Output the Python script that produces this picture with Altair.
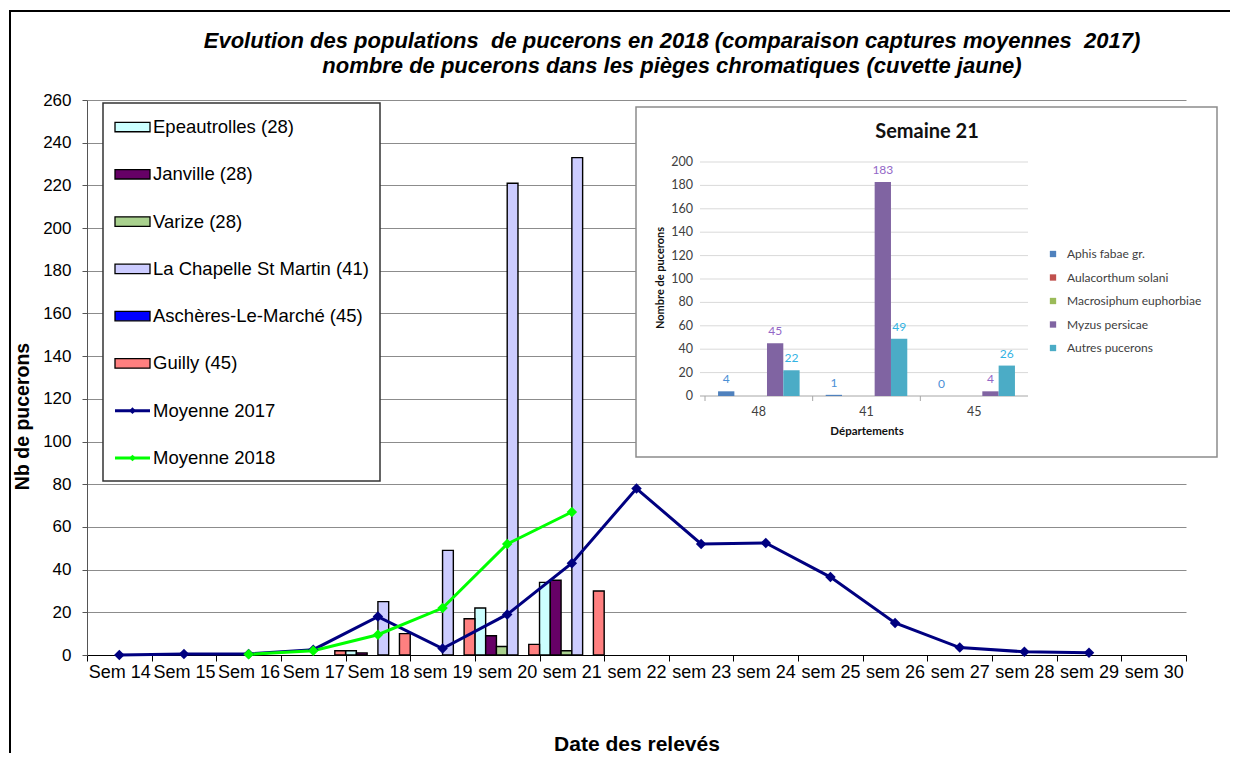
import altair as alt
import pandas as pd

FONT = "Liberation Sans"
IFONT = "Lato"
NB = "\u00a0"

# ---------------- main chart data ----------------
weeks = ["Sem 14", "Sem 15", "Sem 16", "Sem 17", "Sem 18", "sem 19", "sem 20", "sem 21",
         "sem 22", "sem 23", "sem 24", "sem 25", "sem 26", "sem 27", "sem 28", "sem 29", "sem 30"]
sites = ["Epeautrolles (28)", "Janville (28)", "Varize (28)", "La Chapelle St Martin (41)",
         "Aschères-Le-Marché (45)", "Guilly (45)"]
site_colors = ["#CCFFFF", "#660066", "#A9D18E", "#CCCCFF", "#0000FF", "#FF8080"]

epeautrolles = [0, 0, 0, 0, 2, 0, 22, 34, 0, 0, 0, 0, 0, 0, 0, 0, 0]
janville     = [0, 0, 0, 0, 1, 0, 9, 35, 0, 0, 0, 0, 0, 0, 0, 0, 0]
varize       = [0, 0, 0, 0, 0, 0, 4, 2, 0, 0, 0, 0, 0, 0, 0, 0, 0]
chapelle     = [0, 0, 0, 0, 25, 49, 221, 233, 0, 0, 0, 0, 0, 0, 0, 0, 0]
ascheres     = [0, 0, 0, 0, 0, 0, 0, 0, 0, 0, 0, 0, 0, 0, 0, 0, 0]
guilly       = [0, 0, 0, 2, 10, 17, 5, 30, 0, 0, 0, 0, 0, 0, 0, 0, 0]
site_values = [epeautrolles, janville, varize, chapelle, ascheres, guilly]

means = ["Moyenne 2017", "Moyenne 2018"]
mean_colors = ["#000080", "#00FF00"]
moy2017_weeks = weeks[0:16]
moy2017 = [0, 0.5, 0.5, 2.5, 18, 3, 19, 43, 78, 52, 52.5, 36.5, 15, 3.5, 1.5, 1]
moy2018_weeks = weeks[2:8]
moy2018 = [0.3, 2, 9.5, 22, 52, 67]

y_ticks = list(range(0, 261, 20))

title_line1 = ("Evolution des populations " + NB + "de pucerons en 2018 "
               "(comparaison captures moyennes " + NB + "2017)")
title_line2 = "nombre de pucerons dans les pièges chromatiques (cuvette jaune)"

# ---------------- inset data ----------------
depts = ["48", "41", "45"]
species = ["Aphis fabae gr.", "Aulacorthum solani", "Macrosiphum euphorbiae",
           "Myzus persicae", "Autres pucerons"]
species_colors = ["#4F81BD", "#C0504D", "#9BBB59", "#8064A2", "#4BACC6"]
label_colors = ["#4A8FD6", "#C0504D", "#9BBB59", "#9367C7", "#33B3E3"]
aphis = [4, 1, 0]
aulacorthum = [0, 0, 0]
macrosiphum = [0, 0, 0]
myzus = [45, 183, 4]
autres = [22, 49, 26]
species_values = [aphis, aulacorthum, macrosiphum, myzus, autres]
labelled_species = ["Aphis fabae gr.", "Myzus persicae", "Autres pucerons"]
inset_ticks = list(range(0, 201, 20))

# ---------------- tables ----------------
bar_rows = []
for s, vals in zip(sites, site_values):
    for w, v in zip(weeks, vals):
        if v > 0:
            bar_rows.append({"week": w, "site": s, "value": v})
bar_df = pd.DataFrame(bar_rows)

mean_rows = []
for i, (w, v) in enumerate(zip(moy2017_weeks, moy2017)):
    mean_rows.append({"week": w, "serie": "Moyenne 2017", "value": v, "idx": i})
for i, (w, v) in enumerate(zip(moy2018_weeks, moy2018)):
    mean_rows.append({"week": w, "serie": "Moyenne 2018", "value": v, "idx": i})
mean_df = pd.DataFrame(mean_rows)

inset_rows = []
for sp, vals in zip(species, species_values):
    for d, v in zip(depts, vals):
        inset_rows.append({"dept": d, "species": sp, "value": v})
inset_df = pd.DataFrame(inset_rows)
inset_bar_df = inset_df[inset_df["value"] > 0]
inset_lab_df = inset_df[inset_df["species"].isin(labelled_species)]

one = pd.DataFrame({"k": [0]})

# ---------------- main layer ----------------
X = alt.X("week:N", scale=alt.Scale(domain=weeks, paddingInner=0, paddingOuter=0),
          axis=alt.Axis(title="Date des relevés", labelFont=FONT, labelFontSize=18,
                        labelColor="black", labelAngle=0, labelPadding=11,
                        labelBaseline="middle", labelOverlap=False, labelBound=False,
                        tickBand="extent", tickColor="black", tickSize=6,
                        domainColor="black", domainWidth=1, grid=False,
                        titleFont=FONT, titleFontSize=21, titleFontWeight="bold",
                        titleColor="black", titleX=549.5, titleY=89,
                        titleBaseline="middle", titleAlign="center"))
Y = alt.Y("value:Q", scale=alt.Scale(domain=[0, 260], nice=False),
          axis=alt.Axis(values=y_ticks, title="Nb de pucerons", grid=True,
                        gridColor="#8c8c8c", gridWidth=1, domainColor="#555555",
                        tickColor="#555555", tickSize=5, labelFont=FONT,
                        labelFontSize=17, labelColor="black", labelPadding=11,
                        titleFont=FONT, titleFontSize=19.5, titleFontWeight="bold",
                        titleColor="black", titleX=-65, titleY=316, titleAngle=270,
                        titleBaseline="middle", titleAlign="center"))

bars = alt.Chart(bar_df).mark_bar(stroke="black", strokeWidth=1.4).encode(
    x=X,
    xOffset=alt.XOffset("site:N", scale=alt.Scale(domain=sites, paddingInner=0, paddingOuter=0)),
    y=Y,
    fill=alt.Fill("site:N", scale=alt.Scale(domain=sites, range=site_colors), legend=None),
)
mean_color = alt.Color("serie:N", scale=alt.Scale(domain=means, range=mean_colors), legend=None)
lines = alt.Chart(mean_df).mark_line(strokeWidth=3).encode(
    x=X, y=Y, color=mean_color, order=alt.Order("idx:Q"))
points = alt.Chart(mean_df).mark_point(shape="diamond", filled=True, size=110, opacity=1).encode(
    x=X, y=Y, color=mean_color)
main = alt.layer(bars, lines, points)

# ---------------- main legend ----------------
legend_labels = sites + means
LY = alt.Y("label:N", scale=alt.Scale(type="point", domain=legend_labels, range=[27, 358], padding=0),
           axis=None)
rect_path = "M-1,-0.27L1,-0.27L1,0.27L-1,0.27Z"
leg_sym = alt.Chart(pd.DataFrame({"label": sites})).mark_point(
    shape=rect_path, filled=True, size=1225, stroke="black", strokeWidth=1.3, opacity=1).encode(
    x=alt.value(45.5), y=LY,
    fill=alt.Fill("label:N", scale=alt.Scale(domain=sites, range=site_colors), legend=None))
leg_line = alt.Chart(pd.DataFrame({"label": means})).mark_rule(strokeWidth=3).encode(
    x=alt.value(28), x2=alt.value(63), y=LY,
    color=alt.Color("label:N", scale=alt.Scale(domain=means, range=mean_colors), legend=None))
leg_pt = alt.Chart(pd.DataFrame({"label": means})).mark_point(
    shape="diamond", filled=True, size=45, opacity=1).encode(
    x=alt.value(45.5), y=LY,
    color=alt.Color("label:N", scale=alt.Scale(domain=means, range=mean_colors), legend=None))
leg_txt = alt.Chart(pd.DataFrame({"label": legend_labels})).mark_text(
    align="left", baseline="middle", font=FONT, fontSize=18.5, color="black").encode(
    x=alt.value(66), y=LY, text="label:N")
legend = alt.layer(leg_sym, leg_line, leg_pt, leg_txt)

legend_box = alt.Chart(one).mark_rect(fill="white", stroke="#333333", strokeWidth=1.5).encode(
    x=alt.value(16), x2=alt.value(293), y=alt.value(3), y2=alt.value(381))

# ---------------- inset ----------------
inset_box = alt.Chart(one).mark_rect(fill="white", stroke="#8c8c8c", strokeWidth=1.5).encode(
    x=alt.value(549), x2=alt.value(1130), y=alt.value(7), y2=alt.value(357))

IXs = alt.Scale(domain=depts, range=[618, 941], paddingInner=0, paddingOuter=0)
IX = alt.X("dept:N", scale=IXs, axis=None)
IYs = alt.Scale(domain=[0, 200], range=[296, 62], nice=False)
IY = alt.Y("value:Q", scale=IYs, axis=None)
ITY = alt.Y("tick:Q", scale=IYs, axis=None)
IXO = alt.XOffset("species:N", scale=alt.Scale(domain=species, paddingInner=0, paddingOuter=0.8))

tick_df = pd.DataFrame({"tick": inset_ticks})
igrid = alt.Chart(tick_df[tick_df["tick"] > 0]).mark_rule(color="#d9d9d9", strokeWidth=1).encode(
    x=alt.value(613), x2=alt.value(941), y=ITY)
ibase = alt.Chart(tick_df[tick_df["tick"] == 0]).mark_rule(color="#a6a6a6", strokeWidth=1).encode(
    x=alt.value(613), x2=alt.value(941), y=ITY)
iticks = alt.Chart(pd.DataFrame({"dept": depts})).mark_rule(color="#a6a6a6").encode(
    x=alt.X("dept:N", scale=IXs, bandPosition=0, axis=None),
    y=alt.value(296), y2=alt.value(301))
ibars = alt.Chart(inset_bar_df).mark_bar().encode(
    x=IX, xOffset=IXO, y=IY,
    fill=alt.Fill("species:N", scale=alt.Scale(domain=species, range=species_colors), legend=None))
ilabels = alt.Chart(inset_lab_df).mark_text(
    font=IFONT, fontSize=12, baseline="middle", align="center", dy=-12).encode(
    x=IX, xOffset=IXO, y=IY, text="value:Q",
    color=alt.Color("species:N", scale=alt.Scale(domain=species, range=label_colors), legend=None))
iytick = alt.Chart(tick_df).mark_text(
    font=IFONT, fontSize=12.5, align="right", baseline="middle", color="#404040").encode(
    x=alt.value(606), y=ITY, text="tick:Q")
ixlab = alt.Chart(pd.DataFrame({"dept": depts})).mark_text(
    font=IFONT, fontSize=12.5, align="center", baseline="middle", color="#404040").encode(
    x=IX, y=alt.value(312), text="dept:N")
inset = alt.layer(igrid, ibase, iticks, ibars, ilabels, iytick, ixlab)

ILY = alt.Y("species:N", scale=alt.Scale(type="point", domain=species, range=[154, 248], padding=0),
            axis=None)
ileg_sq = alt.Chart(pd.DataFrame({"species": species})).mark_square(size=40, opacity=1).encode(
    x=alt.value(966), y=ILY,
    color=alt.Color("species:N", scale=alt.Scale(domain=species, range=species_colors), legend=None))
ileg_tx = alt.Chart(pd.DataFrame({"species": species})).mark_text(
    font=IFONT, fontSize=12, align="left", baseline="middle", color="#404040").encode(
    x=alt.value(980), y=ILY, text="species:N")
inset_legend = alt.layer(ileg_sq, ileg_tx)

ititle = alt.Chart(one).mark_text(text="Semaine 21", font=IFONT, fontSize=20, fontWeight="bold",
                                   color="#111111", align="center", baseline="middle").encode(
    x=alt.value(840), y=alt.value(32))
iytitle = alt.Chart(one).mark_text(text="Nombre de pucerons", font=IFONT, fontSize=11,
                                    fontWeight="bold", color="#111111", angle=270,
                                    align="center", baseline="middle").encode(
    x=alt.value(574), y=alt.value(178))
ixtitle = alt.Chart(one).mark_text(text="Départements", font=IFONT, fontSize=11.5,
                                    fontWeight="bold", color="#111111",
                                    align="center", baseline="middle").encode(
    x=alt.value(780), y=alt.value(332))

# ---------------- titles & frame ----------------
t1 = alt.Chart(one).mark_text(text=title_line1, font=FONT, fontSize=22, fontWeight="bold",
                              fontStyle="italic", color="black", align="center",
                              baseline="middle").encode(x=alt.value(585), y=alt.value(-59))
t2 = alt.Chart(one).mark_text(text=title_line2, font=FONT, fontSize=22, fontWeight="bold",
                              fontStyle="italic", color="black", align="center",
                              baseline="middle").encode(x=alt.value(585), y=alt.value(-34))
frame = alt.Chart(one).mark_rect(fill="white", fillOpacity=0, stroke="black", strokeWidth=2).encode(
    x=alt.value(-77), x2=alt.value(1170), y=alt.value(-89), y2=alt.value(700))

chart = alt.layer(
    frame, t1, t2, main, legend_box, legend, inset_box, inset, inset_legend,
    ititle, iytitle, ixtitle
).resolve_scale(
    x="independent", y="independent", color="independent", fill="independent",
    xOffset="independent"
).properties(
    width=1099, height=555,
    autosize=alt.AutoSizeParams(type="none"),
    padding={"left": 79, "top": 92, "right": 44, "bottom": 98},
    background="white",
).configure_view(strokeWidth=0)

chart.save("out.html", embed_options={"renderer": "svg", "actions": False})
